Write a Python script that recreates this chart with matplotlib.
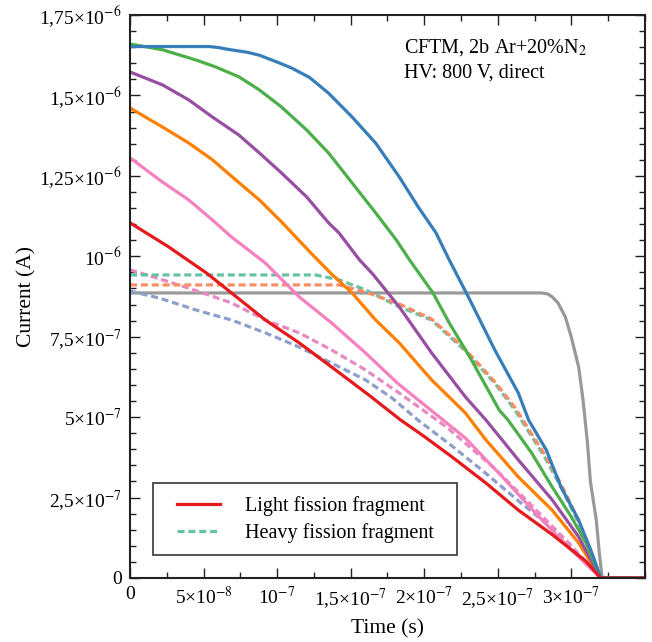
import numpy as np
import matplotlib
matplotlib.use("Agg")
import matplotlib.pyplot as plt
from matplotlib.ticker import MultipleLocator, FixedLocator, FuncFormatter
from matplotlib.lines import Line2D
from matplotlib.patches import Rectangle

plt.rcParams['font.family'] = ['Liberation Serif', 'DejaVu Serif']
plt.rcParams['mathtext.fontset'] = 'stix'

# time in ns, current in uA (converted to SI when plotted)
t_blue = [0, 30, 54, 60, 67, 80, 88, 101, 110, 122, 135, 151, 167, 183, 196, 208, 217, 230, 248, 264, 271, 283, 293, 305, 314, 320, 350]
i_blue = [1.652, 1.652, 1.652, 1.649, 1.643, 1.634, 1.625, 1.602, 1.585, 1.556, 1.507, 1.433, 1.352, 1.247, 1.153, 1.073, 0.989, 0.874, 0.709, 0.575, 0.491, 0.398, 0.283, 0.18, 0.078, 0, 0]

t_green = [0, 22, 45, 58, 74, 88, 103, 120, 135, 151, 167, 181, 190, 206, 217, 231, 251, 257, 273, 287, 300, 310, 320, 350]
i_green = [1.66, 1.642, 1.61, 1.589, 1.558, 1.517, 1.464, 1.393, 1.321, 1.228, 1.135, 1.051, 0.989, 0.886, 0.793, 0.687, 0.522, 0.491, 0.389, 0.283, 0.19, 0.109, 0, 0]

t_purple = [0, 22, 40, 56, 74, 88, 103, 120, 135, 142, 156, 165, 183, 205, 228, 242, 264, 287, 305, 320, 350]
i_purple = [1.573, 1.533, 1.486, 1.433, 1.377, 1.321, 1.259, 1.185, 1.104, 1.073, 0.989, 0.945, 0.843, 0.70, 0.563, 0.491, 0.367, 0.243, 0.128, 0, 0]

t_orange = [0, 22, 40, 56, 72, 88, 103, 123, 137, 151, 167, 183, 205, 228, 242, 264, 287, 305, 320, 350]
i_orange = [1.461, 1.402, 1.352, 1.30, 1.237, 1.175, 1.107, 1.01, 0.945, 0.886, 0.802, 0.731, 0.616, 0.513, 0.429, 0.314, 0.211, 0.109, 0, 0]

t_pink = [0, 22, 40, 56, 69, 92, 115, 137, 160, 182, 205, 228, 253, 276, 298, 320, 350]
i_pink = [1.306, 1.231, 1.175, 1.113, 1.06, 0.979, 0.874, 0.793, 0.70, 0.605, 0.52, 0.435, 0.315, 0.2, 0.096, 0, 0]

t_red = [0, 26, 52, 69, 92, 115, 137, 162, 184, 200, 219, 242, 264, 287, 310, 320, 350]
i_red = [1.104, 1.03, 0.948, 0.886, 0.802, 0.731, 0.656, 0.57, 0.491, 0.44, 0.376, 0.295, 0.211, 0.135, 0.052, 0, 0]

t_gray = [0, 280, 284, 287, 291, 296, 300, 305, 308, 311, 313, 317, 319, 321, 350]
i_gray = [0.886, 0.886, 0.883, 0.874, 0.855, 0.811, 0.749, 0.656, 0.553, 0.42, 0.30, 0.18, 0.08, 0, 0]

# heavy fragment curves (dashed)
t_teal = [0, 126, 142, 160, 182, 205, 227, 248, 262, 271, 282, 293, 303, 312, 320, 350]
i_teal = [0.942, 0.942, 0.927, 0.896, 0.845, 0.802, 0.71, 0.605, 0.52, 0.455, 0.375, 0.283, 0.19, 0.096, 0, 0]

t_salmon = [0, 142, 160, 183, 205, 227, 248, 262, 271, 282, 293, 303, 312, 320, 350]
i_salmon = [0.911, 0.911, 0.889, 0.852, 0.805, 0.715, 0.61, 0.528, 0.463, 0.383, 0.292, 0.198, 0.102, 0, 0]

t_pinkd = [0, 20, 47, 69, 92, 115, 137, 160, 183, 215, 249, 271, 298, 320, 350]
i_pinkd = [0.958, 0.93, 0.89, 0.855, 0.802, 0.762, 0.709, 0.647, 0.575, 0.47, 0.336, 0.235, 0.11, 0, 0]

t_slate = [0, 20, 47, 69, 92, 115, 137, 160, 178, 196, 219, 242, 264, 287, 320, 350]
i_slate = [0.892, 0.87, 0.83, 0.802, 0.762, 0.718, 0.668, 0.616, 0.56, 0.49, 0.41, 0.325, 0.24, 0.155, 0, 0]

x_tick_vals = [0, 50, 100, 150, 200, 250, 300]
y_tick_vals = [0, 0.25, 0.5, 0.75, 1.0, 1.25, 1.5, 1.75]

annot_lines = ["CFTM, 2b Ar+20%N$_2$", "HV: 800 V, direct"]
legend_labels = ["Light fission fragment", "Heavy fission fragment"]


def sci_comma(v, pos=None):
    # decimal comma, e.g. 1,25×10^-6 ; only the exponent goes through mathtext
    if abs(v) < 1e-20:
        return "0"
    exp = int(np.floor(np.log10(abs(v)) + 1e-9))
    mant = v / 10.0 ** exp
    sup = r"$^{-%d}$" % abs(exp) if exp < 0 else r"$^{%d}$" % exp
    if abs(mant - 1) < 1e-6:
        return "10" + sup
    m = f"{mant:.2f}".rstrip("0").rstrip(".").replace(".", ",")
    return m + "\u00d710" + sup


fig = plt.figure(figsize=(6.52, 6.42), dpi=100)
ax = fig.add_axes([0.1994, 0.0997, 0.7896, 0.8769])

ns, ua = 1e-9, 1e-6
lw = 2.3
dash = (0, (2.2, 1.2))

ax.plot(np.array(t_gray) * ns, np.array(i_gray) * ua, color='#999999', lw=lw)
ax.plot(np.array(t_slate) * ns, np.array(i_slate) * ua, color='#8da0cb', lw=lw, ls=dash)
ax.plot(np.array(t_pinkd) * ns, np.array(i_pinkd) * ua, color='#e78ac3', lw=lw, ls=dash)
ax.plot(np.array(t_teal) * ns, np.array(i_teal) * ua, color='#66c2a5', lw=lw, ls=dash)
ax.plot(np.array(t_salmon) * ns, np.array(i_salmon) * ua, color='#fc8d62', lw=lw, ls=dash)
ax.plot(np.array(t_pink) * ns, np.array(i_pink) * ua, color='#f781bf', lw=lw)
ax.plot(np.array(t_orange) * ns, np.array(i_orange) * ua, color='#ff7f00', lw=lw)
ax.plot(np.array(t_purple) * ns, np.array(i_purple) * ua, color='#984ea3', lw=lw)
ax.plot(np.array(t_green) * ns, np.array(i_green) * ua, color='#4daf4a', lw=lw)
ax.plot(np.array(t_blue) * ns, np.array(i_blue) * ua, color='#377eb8', lw=lw)
ax.plot(np.array(t_red) * ns, np.array(i_red) * ua, color='#e41a1c', lw=lw)

ax.set_xlim(0, 350 * ns)
ax.set_ylim(0, 1.75 * ua)

ax.xaxis.set_major_locator(FixedLocator([v * ns for v in x_tick_vals]))
ax.xaxis.set_minor_locator(MultipleLocator(25 * ns))
ax.yaxis.set_major_locator(FixedLocator([v * ua for v in y_tick_vals]))
ax.yaxis.set_minor_locator(MultipleLocator(0.05 * ua))
ax.xaxis.set_major_formatter(FuncFormatter(sci_comma))
ax.yaxis.set_major_formatter(FuncFormatter(sci_comma))

ax.tick_params(which='both', direction='in', top=True, right=True, width=1.0, color='#222222')
ax.tick_params(which='major', length=7, labelsize=14, pad=6)
ax.tick_params(which='minor', length=4)
for s in ax.spines.values():
    s.set_linewidth(1.5)
    s.set_color('#222222')

ax.set_xlabel("Time (s)", fontsize=15.5, labelpad=6)
ax.set_ylabel("Current (A)", fontsize=15.5, labelpad=2)

ax.text(0.532, 0.933, annot_lines[0], transform=ax.transAxes, fontsize=14.5, va='baseline')
ax.text(0.532, 0.889, annot_lines[1], transform=ax.transAxes, fontsize=14.5, va='baseline')

# legend box drawn separately so its padding can differ per side
ax.add_patch(Rectangle((0.0447, 0.0409), 0.590, 0.128, transform=ax.transAxes,
                       fill=True, facecolor='white', edgecolor='#444444', lw=1.3, zorder=4))
handles = [Line2D([], [], color='#e41a1c', lw=lw),
           Line2D([], [], color='#66c2a5', lw=lw, ls=dash)]
leg = ax.legend(handles, legend_labels, loc='center left', bbox_to_anchor=(0.0913, 0.1039),
                borderaxespad=0, borderpad=0, fontsize=14.5, frameon=False,
                handlelength=2.15, handletextpad=1.25, labelspacing=0.37)
leg.set_zorder(5)

fig.savefig("out.png", dpi=100)
